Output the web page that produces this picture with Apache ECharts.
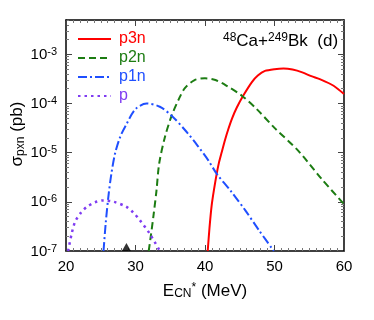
<!DOCTYPE html>
<html>
<head>
<meta charset="utf-8">
<script src="https://cdn.jsdelivr.net/npm/echarts@6/dist/echarts.min.js"></script>
<style>
html, body { margin: 0; padding: 0; background: #fff; }
#main { width: 374px; height: 320px; }
</style>
</head>
<body>
<div id="main"></div>
<script>
// 截面数据 (E*, sigma)
var p3nE = [40.39, 40.65, 40.96, 41.3, 41.68, 42.0, 42.4, 42.9, 43.35, 43.9, 44.56, 45.51, 46.72, 47.6, 48.63, 50.0, 51.3, 52.6, 54.0, 55.3, 56.6, 58.5, 60.0]
var p3nS = [1e-7, 3.0e-7, 8.5e-7, 1.8e-6, 3.7e-6, 6.2e-6, 1.02e-5, 1.86e-5, 3.0e-5, 5.0e-5, 8.2e-5, 1.45e-4, 2.7e-4, 3.7e-4, 4.6e-4, 5.0e-4, 5.15e-4, 4.9e-4, 4.3e-4, 3.6e-4, 3.1e-4, 2.3e-4, 1.56e-4]

var p2nE = [31.9, 32.2, 32.56, 33.0, 33.4, 34.2, 35.2, 36.2, 37.1, 38.5, 40.0, 41.5, 43.0, 45.3, 47.44, 50.0, 53.4, 56.8, 60.0]
var p2nS = [1e-7, 2.0e-7, 4.9e-7, 1.6e-6, 5.9e-6, 2.0e-5, 5.66e-5, 1.2e-4, 2.06e-4, 3.0e-4, 3.25e-4, 3.0e-4, 2.35e-4, 1.44e-4, 7.7e-5, 3.2e-5, 1.1e-5, 2.9e-6, 9e-7]

var p1nE = [25.4, 25.7, 26.09, 26.5, 27.05, 27.8, 28.7, 30.0, 31.6, 33.5, 35.2, 37.4, 39.0, 40.5, 41.7, 43.8, 45.8, 47.8, 49.9]
var p1nS = [1e-7, 3.5e-7, 1.25e-6, 3.5e-6, 9.5e-6, 2.1e-5, 3.8e-5, 7.7e-5, 1.0e-4, 8.6e-5, 5.66e-5, 2.6e-5, 1.35e-5, 6.9e-6, 3.7e-6, 1.6e-6, 6.7e-7, 2.6e-7, 1e-7]

var pE = [20.3, 20.8, 21.3, 22.1, 23.0, 24.2, 25.4, 26.9, 28.7, 29.7, 30.65, 32.0, 33.5]
var pS = [1e-7, 2.2e-7, 3.9e-7, 5.9e-7, 7.9e-7, 9.8e-7, 1.07e-6, 1.0e-6, 7.9e-7, 6.0e-7, 4.2e-7, 2.3e-7, 1.0e-7]

var markerE = [28.7]
var seriesNames = ['p3n', 'p2n', 'p1n', 'p']
var seriesColors = ['#ff0000', '#1c7c12', '#1f4fff', '#7f3cf2']

var xMin = 20, xMax = 60
var yMin = 1e-7, yMax = 5e-3
var decades = [-7, -6, -5, -4, -3]

var minorTicks = []
decades.forEach(function (d) {
  for (var k = 2; k <= 9; k++) {
    var v = k * Math.pow(10, d)
    if (v <= yMax) minorTicks.push(v)
  }
})

function pairs (xs, ys) {
  return xs.map(function (x, i) { return [x, ys[i]] })
}

var font = 'Liberation Sans'

var myChart = echarts.init(document.getElementById('main'))

var axisLineStyle = { show: true, lineStyle: { color: '#000', width: 1.5 } }
var tickColor = '#444'

function yLabel (v) {
  var lg = Math.log10(v)
  var n = Math.round(lg)
  if (Math.abs(lg - n) > 1e-6) return ''
  return '{b|10}{s|' + n + '}'
}

var option = {
  animation: false,
  backgroundColor: '#fff',
  textStyle: { fontFamily: font },
  grid: { left: 66, right: 30, top: 20, bottom: 69 },
  legend: {
    orient: 'vertical',
    left: 77,
    top: 31,
    padding: 0,
    itemWidth: 33,
    itemHeight: 14,
    itemGap: 3,
    itemStyle: { opacity: 0 },
    textStyle: { fontSize: 16, fontFamily: font, lineHeight: 16, padding: [0, 0, 0, 3] },
    data: seriesNames.map(function (n, i) {
      return { name: n, textStyle: { color: seriesColors[i] } }
    })
  },
  xAxis: [
    {
      type: 'value', min: xMin, max: xMax, interval: 10, position: 'bottom',
      axisLine: axisLineStyle,
      axisTick: { inside: true, length: 6, lineStyle: { color: tickColor } },
      minorTick: { show: true, splitNumber: 10, length: 3, lineStyle: { color: '#777' } },
      axisLabel: { fontSize: 15, color: '#000', margin: 8, fontFamily: font },
      splitLine: { show: false }
    },
    {
      type: 'value', min: xMin, max: xMax, interval: 10, position: 'top',
      axisLine: axisLineStyle,
      axisTick: { inside: true, length: 6, lineStyle: { color: tickColor } },
      minorTick: { show: true, splitNumber: 10, length: 3, lineStyle: { color: '#777' } },
      axisLabel: { show: false },
      splitLine: { show: false }
    }
  ],
  yAxis: [
    {
      type: 'log', logBase: 10, min: yMin, max: yMax, interval: 1, position: 'left',
      axisLine: axisLineStyle,
      axisTick: { inside: true, length: 6, lineStyle: { color: tickColor } },
      axisLabel: {
        formatter: yLabel,
        margin: 9,
        rich: {
          b: { fontSize: 15, lineHeight: 16, verticalAlign: 'bottom', color: '#000', fontFamily: font },
          s: { fontSize: 11, lineHeight: 12, verticalAlign: 'top', color: '#000', fontFamily: font }
        }
      },
      splitLine: { show: false }
    },
    {
      type: 'log', logBase: 10, min: yMin, max: yMax, interval: 1, position: 'right',
      axisLine: axisLineStyle,
      axisTick: { inside: true, length: 6, lineStyle: { color: tickColor } },
      axisLabel: { show: false },
      splitLine: { show: false }
    },
    {
      type: 'log', logBase: 10, min: yMin, max: yMax, position: 'left',
      axisLine: { show: false },
      axisTick: { inside: true, length: 3, customValues: minorTicks, lineStyle: { color: '#777' } },
      axisLabel: { show: false },
      splitLine: { show: false }
    },
    {
      type: 'log', logBase: 10, min: yMin, max: yMax, position: 'right',
      axisLine: { show: false },
      axisTick: { inside: true, length: 3, customValues: minorTicks, lineStyle: { color: '#777' } },
      axisLabel: { show: false },
      splitLine: { show: false }
    }
  ],
  graphic: [
    {
      type: 'text', left: 223, top: 32,
      style: {
        text: '{sup|48}{m|Ca+}{sup|249}{m|Bk  (d)}',
        rich: {
          m: { fontSize: 17, lineHeight: 18, verticalAlign: 'bottom', fill: '#000', fontFamily: font },
          sup: { fontSize: 12, lineHeight: 12, padding: [0, 0, 8, 0], verticalAlign: 'top', fill: '#000', fontFamily: font }
        }
      }
    },
    {
      type: 'text', x: 205, y: 291,
      style: {
        text: '{m|E}{sub|CN}{sup|*}{m| (MeV)}',
        align: 'center', verticalAlign: 'middle',
        rich: {
          m: { fontSize: 17, lineHeight: 18, verticalAlign: 'middle', fill: '#000', fontFamily: font },
          sub: { fontSize: 12, lineHeight: 12, padding: [14, 0, 0, 0], verticalAlign: 'bottom', fill: '#000', fontFamily: font },
          sup: { fontSize: 12, lineHeight: 12, padding: [0, 0, 10, 0], verticalAlign: 'top', fill: '#000', fontFamily: font }
        }
      }
    },
    {
      type: 'text', x: 18, y: 134, rotation: Math.PI / 2,
      style: {
        text: '{m|σ}{sub|pxn}{m| (pb)}',
        align: 'center', verticalAlign: 'middle',
        rich: {
          m: { fontSize: 17, lineHeight: 18, verticalAlign: 'top', fill: '#000', fontFamily: font },
          sub: { fontSize: 12, lineHeight: 12, padding: [10, 0, 0, 0], verticalAlign: 'bottom', fill: '#000', fontFamily: font }
        }
      }
    }
  ],
  series: [
    {
      name: 'p3n', type: 'line', smooth: 0.25, showSymbol: false, symbol: 'none',
      data: pairs(p3nE, p3nS),
      lineStyle: { color: seriesColors[0], width: 2, type: 'solid' },
      itemStyle: { color: seriesColors[0] }
    },
    {
      name: 'p2n', type: 'line', smooth: 0.3, showSymbol: false, symbol: 'none',
      data: pairs(p2nE, p2nS),
      lineStyle: { color: seriesColors[1], width: 2, type: [7, 4] },
      itemStyle: { color: seriesColors[1] }
    },
    {
      name: 'p1n', type: 'line', smooth: 0.3, showSymbol: false, symbol: 'none',
      data: pairs(p1nE, p1nS),
      lineStyle: { color: seriesColors[2], width: 2, type: [9, 3, 2, 3] },
      itemStyle: { color: seriesColors[2] }
    },
    {
      name: 'p', type: 'line', smooth: 0.3, showSymbol: false, symbol: 'none',
      data: pairs(pE, pS),
      lineStyle: { color: seriesColors[3], width: 2.5, type: [2.5, 4] },
      itemStyle: { color: seriesColors[3] }
    },
    {
      name: 'marker', type: 'scatter', symbol: 'triangle', symbolSize: [9, 8],
      symbolOffset: [0, -4], clip: false,
      data: markerE.map(function (e) { return [e, yMin] }),
      itemStyle: { color: '#000' }
    }
  ]
}

myChart.setOption(option)
</script>
</body>
</html>
